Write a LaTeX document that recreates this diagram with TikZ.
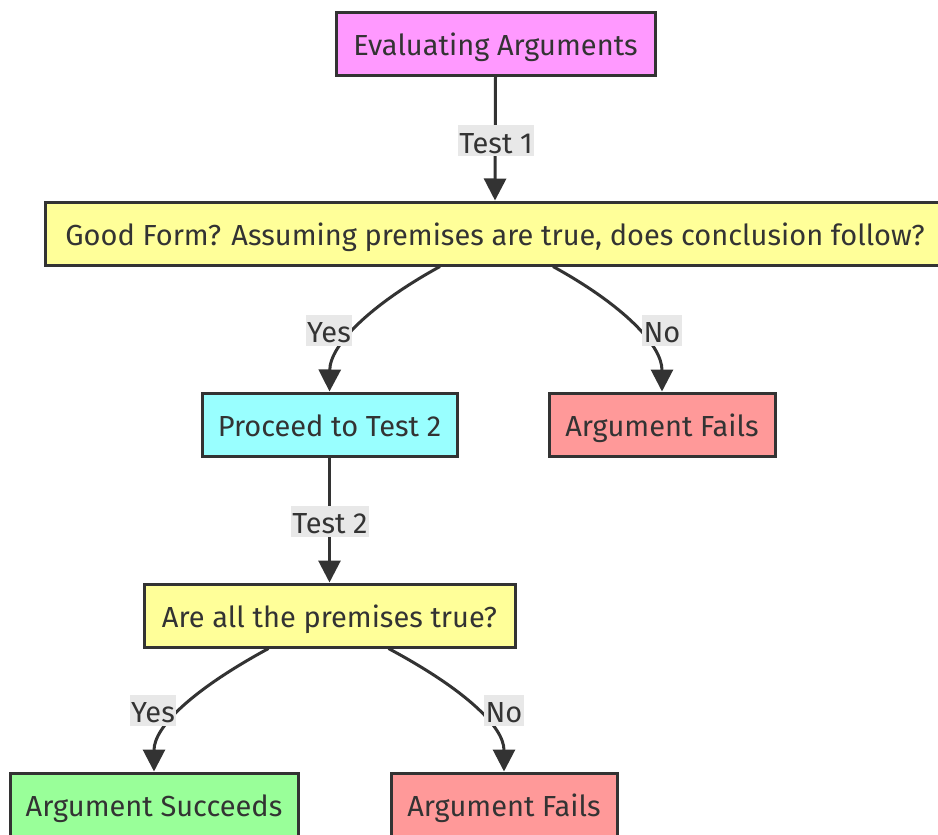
\documentclass[tikz,border=0pt]{standalone}
\usepackage{fontspec}
\setmainfont{Fira Sans}
\usetikzlibrary{arrows.meta}
\definecolor{ink}{HTML}{333333}
\definecolor{pinkfill}{HTML}{FF99FF}
\definecolor{yellowfill}{HTML}{FFFF99}
\definecolor{cyanfill}{HTML}{99FFFF}
\definecolor{redfill}{HTML}{FF9999}
\definecolor{greenfill}{HTML}{99FF99}
\definecolor{labelbg}{HTML}{E8E8E8}
\begin{document}
\begin{tikzpicture}[x=1pt,y=-1pt,
  box/.style={draw=ink, line width=3pt, text=ink, inner sep=0pt,
    minimum height=63pt, text height=26pt, text depth=3pt,
    font=\fontsize{29}{34}\selectfont},
  edge/.style={draw=ink, line width=3pt,
    -{Triangle[length=22pt,width=22pt]}},
  lbl/.style={fill=labelbg, text=ink, inner xsep=1.5pt, inner ysep=0pt,
    text height=28pt, text depth=3pt,
    font=\fontsize{29}{34}\selectfont}]
\useasboundingbox (0,0) rectangle (938,835);
\clip (0,0) rectangle (938,835);

% decision flow boxes
\node[box, fill=pinkfill, minimum width=319pt] (eval) at (495.5,43.5) {Evaluating Arguments};
\node[box, fill=yellowfill, minimum width=900pt] (good) at (495,233.5)
  {Good Form? Assuming premises are true, does conclusion follow?};
\node[box, fill=cyanfill, minimum width=255pt] (proc) at (329.5,424.5) {Proceed to Test 2};
\node[box, fill=redfill, minimum width=226pt] (failA) at (662,424.5) {Argument Fails};
\node[box, fill=yellowfill, minimum width=371pt] (prem) at (329.5,615.5) {Are all the premises true?};
\node[box, fill=greenfill, minimum width=288pt] (succ) at (154,804.5) {Argument Succeeds};
\node[box, fill=redfill, minimum width=226pt] (failB) at (504,804.5) {Argument Fails};

% connectors
\draw[edge] (eval.south) -- (good.north);
\draw[edge] ([xshift=-55pt]good.south) .. controls (370,305) and (330,345) .. (proc.north);
\draw[edge] ([xshift=58pt]good.south) .. controls (623,305) and (662,345) .. (failA.north);
\draw[edge] (proc.south) -- (prem.north);
\draw[edge] ([xshift=-61pt]prem.south) .. controls (192,690) and (154,727) .. (succ.north);
\draw[edge] ([xshift=59pt]prem.south) .. controls (466,690) and (504,727) .. (failB.north);

% connector labels
\node[lbl] (t1) at (496,140.5) {Test 1};
\node[lbl] (y1) at (329,330) {Yes};
\node[lbl] (n1) at (662,330) {No};
\node[lbl] (t2) at (330,521) {Test 2};
\node[lbl] (y2) at (153,710) {Yes};
\node[lbl] (n2) at (504,710) {No};
\end{tikzpicture}
\end{document}
